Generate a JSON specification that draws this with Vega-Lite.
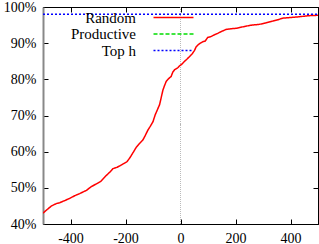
{
  "$schema": "https://vega.github.io/schema/vega-lite/v6.json",
  "width": 275,
  "height": 217,
  "autosize": "none",
  "padding": {"left": 43, "top": 7, "right": 1, "bottom": 20},
  "config": {
    "font": "Liberation Serif",
    "view": {"stroke": "black", "strokeWidth": 1},
    "axis": {"labelFont": "Liberation Serif", "labelFontSize": 14, "labelColor": "black", "tickColor": "black", "domainColor": "black", "grid": false, "title": null, "tickSize": -5, "labelPadding": 12}
  },
  "datasets": {
    "lines": [
      {"series": "Random", "x": -500, "y": 0.430},
      {"series": "Random", "x": -485, "y": 0.440},
      {"series": "Random", "x": -469, "y": 0.450},
      {"series": "Random", "x": -450, "y": 0.457},
      {"series": "Random", "x": -439, "y": 0.459},
      {"series": "Random", "x": -420, "y": 0.465},
      {"series": "Random", "x": -403, "y": 0.471},
      {"series": "Random", "x": -385, "y": 0.478},
      {"series": "Random", "x": -367, "y": 0.484},
      {"series": "Random", "x": -342, "y": 0.493},
      {"series": "Random", "x": -325, "y": 0.503},
      {"series": "Random", "x": -306, "y": 0.511},
      {"series": "Random", "x": -290, "y": 0.518},
      {"series": "Random", "x": -270, "y": 0.534},
      {"series": "Random", "x": -255, "y": 0.545},
      {"series": "Random", "x": -246, "y": 0.553},
      {"series": "Random", "x": -230, "y": 0.557},
      {"series": "Random", "x": -209, "y": 0.566},
      {"series": "Random", "x": -195, "y": 0.572},
      {"series": "Random", "x": -185, "y": 0.582},
      {"series": "Random", "x": -172, "y": 0.598},
      {"series": "Random", "x": -161, "y": 0.612},
      {"series": "Random", "x": -150, "y": 0.622},
      {"series": "Random", "x": -137, "y": 0.632},
      {"series": "Random", "x": -128, "y": 0.645},
      {"series": "Random", "x": -119, "y": 0.659},
      {"series": "Random", "x": -110, "y": 0.670},
      {"series": "Random", "x": -100, "y": 0.683},
      {"series": "Random", "x": -92, "y": 0.702},
      {"series": "Random", "x": -84, "y": 0.716},
      {"series": "Random", "x": -76, "y": 0.730},
      {"series": "Random", "x": -70, "y": 0.750},
      {"series": "Random", "x": -64, "y": 0.770},
      {"series": "Random", "x": -58, "y": 0.783},
      {"series": "Random", "x": -52, "y": 0.794},
      {"series": "Random", "x": -43, "y": 0.802},
      {"series": "Random", "x": -34, "y": 0.808},
      {"series": "Random", "x": -28, "y": 0.820},
      {"series": "Random", "x": -22, "y": 0.826},
      {"series": "Random", "x": -10, "y": 0.832},
      {"series": "Random", "x": -4, "y": 0.837},
      {"series": "Random", "x": 5, "y": 0.842},
      {"series": "Random", "x": 15, "y": 0.850},
      {"series": "Random", "x": 25, "y": 0.857},
      {"series": "Random", "x": 33, "y": 0.863},
      {"series": "Random", "x": 42, "y": 0.870},
      {"series": "Random", "x": 51, "y": 0.880},
      {"series": "Random", "x": 57, "y": 0.890},
      {"series": "Random", "x": 63, "y": 0.895},
      {"series": "Random", "x": 72, "y": 0.900},
      {"series": "Random", "x": 81, "y": 0.904},
      {"series": "Random", "x": 90, "y": 0.906},
      {"series": "Random", "x": 99, "y": 0.916},
      {"series": "Random", "x": 110, "y": 0.918},
      {"series": "Random", "x": 123, "y": 0.923},
      {"series": "Random", "x": 135, "y": 0.927},
      {"series": "Random", "x": 148, "y": 0.932},
      {"series": "Random", "x": 166, "y": 0.938},
      {"series": "Random", "x": 185, "y": 0.940},
      {"series": "Random", "x": 202, "y": 0.941},
      {"series": "Random", "x": 220, "y": 0.944},
      {"series": "Random", "x": 238, "y": 0.947},
      {"series": "Random", "x": 260, "y": 0.950},
      {"series": "Random", "x": 287, "y": 0.952},
      {"series": "Random", "x": 310, "y": 0.956},
      {"series": "Random", "x": 335, "y": 0.961},
      {"series": "Random", "x": 355, "y": 0.965},
      {"series": "Random", "x": 371, "y": 0.969},
      {"series": "Random", "x": 400, "y": 0.971},
      {"series": "Random", "x": 432, "y": 0.973},
      {"series": "Random", "x": 465, "y": 0.976},
      {"series": "Random", "x": 500, "y": 0.977},
      {"series": "Top h", "x": -500, "y": 0.980},
      {"series": "Top h", "x": 500, "y": 0.980}
    ]
  },
  "data": {"name": "lines"},
  "resolve": {"axis": {"x": "independent", "y": "independent"}},
  "layer": [
    {
      "mark": {"type": "rule", "color": "#bbbbbb", "strokeDash": [1, 1], "strokeWidth": 1},
      "encoding": {
        "x": {"datum": 0, "type": "quantitative", "scale": {"domain": [-500, 500]}, "axis": null}
      }
    },
    {
      "mark": {"type": "line", "strokeWidth": 1.5, "clip": true},
      "encoding": {
        "x": {"field": "x", "type": "quantitative", "scale": {"domain": [-500, 500], "nice": false, "zero": false},
              "axis": {"values": [-400, -200, 0, 200, 400], "orient": "bottom", "labelPadding": 12, "labelExpr": "replace(datum.label, '\u2212', '-')"}},
        "y": {"field": "y", "type": "quantitative", "scale": {"domain": [0.4, 1.0], "nice": false, "zero": false},
              "axis": {"values": [0.4, 0.5, 0.6, 0.7, 0.8, 0.9, 1.0], "format": ".0%", "orient": "left", "domainColor": "#888888", "domainWidth": 2}},
        "color": {"field": "series", "type": "nominal",
                  "scale": {"domain": ["Random", "Productive", "Top h"], "range": ["#ff0000", "#00dd00", "#0000ff"]},
                  "legend": {"orient": "none", "legendX": 103, "legendY": 3, "title": null, "labelFontSize": 15, "labelFont": "Liberation Serif", "labelColor": "black", "labelAlign": "right", "labelOffset": -25, "symbolType": "M0,0H8", "symbolSize": 100, "symbolStrokeWidth": 1.5, "rowPadding": 0.5, "padding": 0}},
        "strokeDash": {"field": "series", "type": "nominal",
                       "scale": {"domain": ["Random", "Productive", "Top h"], "range": [[1, 0], [4, 2], [2, 2]]},
                       "legend": {"orient": "none", "legendX": 103, "legendY": 3, "title": null, "labelFontSize": 15, "labelFont": "Liberation Serif", "labelColor": "black", "labelAlign": "right", "labelOffset": -25, "symbolType": "M0,0H8", "symbolSize": 100, "symbolStrokeWidth": 1.5, "rowPadding": 0.5, "padding": 0}}
      }
    },
    {
      "mark": {"type": "point", "opacity": 0},
      "encoding": {
        "x": {"field": "x", "type": "quantitative", "axis": {"values": [-400, -200, 0, 200, 400], "orient": "top", "labels": false}},
        "y": {"field": "y", "type": "quantitative", "axis": {"values": [0.4, 0.5, 0.6, 0.7, 0.8, 0.9, 1.0], "orient": "right", "labels": false}}
      }
    }
  ]
}
